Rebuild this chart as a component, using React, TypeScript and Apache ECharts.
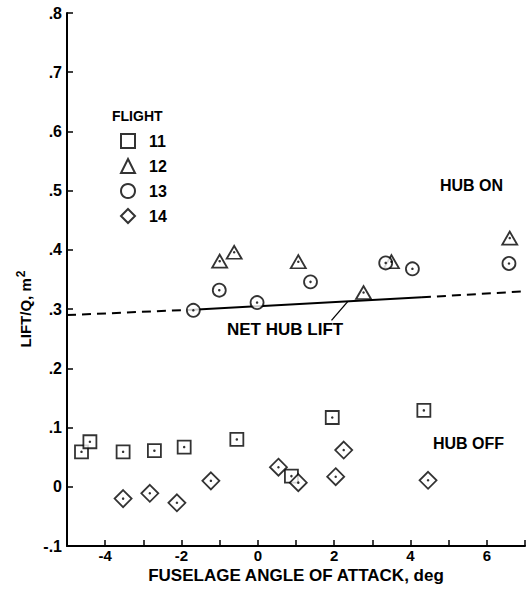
import React, { useEffect, useRef } from "react";
import * as echarts from "echarts";

// Flight data: [fuselage angle of attack (deg), lift/q (m^2)]
const flight11: number[][] = [
  [-4.62, 0.059], [-4.40, 0.076], [-3.53, 0.059], [-2.71, 0.061], [-1.93, 0.067],
  [-0.55, 0.080], [0.88, 0.018], [1.95, 0.117], [4.35, 0.129],
];
const flight12: number[][] = [
  [-1.0, 0.381], [-0.62, 0.396], [1.06, 0.380], [2.77, 0.328], [3.5, 0.380], [6.6, 0.420],
];
const flight13: number[][] = [
  [-1.69, 0.298], [-1.01, 0.332], [-0.02, 0.311], [1.38, 0.346], [3.35, 0.378],
  [4.05, 0.368], [6.58, 0.377],
];
const flight14: number[][] = [
  [-3.53, -0.020], [-2.83, -0.011], [-2.12, -0.027], [-1.23, 0.010], [0.54, 0.033],
  [1.06, 0.007], [2.04, 0.017], [2.25, 0.062], [4.46, 0.011],
];
// Net hub lift line
const netDashLeft: number[][] = [[-5, 0.290], [-1.7, 0.299]];
const netSolid: number[][] = [[-1.7, 0.299], [4.3, 0.320]];
const netDashRight: number[][] = [[4.3, 0.320], [7, 0.330]];
const leader: number[][] = [[1.93, 0.281], [2.36, 0.313]];

const flightNames = ["11", "12", "13", "14"];

const FONT = "Liberation Sans, Arial, Helvetica, sans-serif";

export default function App() {
  const ref = useRef<HTMLDivElement>(null);
  useEffect(() => {
    if (!ref.current) return;
    const chart = echarts.init(ref.current, undefined, { renderer: "svg" });
    const markerStyle = { color: "#fff", borderColor: "#000", borderWidth: 1.8 };
    const lineBase = { type: "line", symbol: "none", silent: true, z: 1 } as any;
    chart.setOption({
      animation: false,
      backgroundColor: "#fff",
      grid: { left: 67, right: 4, top: 13, bottom: 45, outerBoundsMode: "none" },
      xAxis: {
        type: "value",
        min: -5,
        max: 7,
        interval: 1,
        axisLine: { onZero: false, lineStyle: { color: "#000", width: 2 } },
        axisTick: { inside: true, length: 6, lineStyle: { color: "#000", width: 1.5 } },
        axisLabel: {
          formatter: (v: number) => (Math.round(v) % 2 === 0 ? String(Math.round(v)) : ""),
          fontFamily: FONT, fontSize: 15, fontWeight: "bold", color: "#000", margin: 2,
        },
        splitLine: { show: false },
      },
      yAxis: {
        type: "value",
        min: -0.1,
        max: 0.8,
        interval: 0.1,
        axisLine: { onZero: false, lineStyle: { color: "#000", width: 2 } },
        axisTick: { inside: true, length: 6, lineStyle: { color: "#000", width: 1.5 } },
        axisLabel: {
          formatter: (v: number) => {
            const r = Math.round(v * 10) / 10;
            if (r === 0) return "0";
            return r.toFixed(1).replace("0.", ".");
          },
          fontFamily: FONT, fontSize: 16, fontWeight: "bold", color: "#000", margin: 5,
        },
        splitLine: { show: false },
      },
      legend: {
        data: flightNames,
        orient: "vertical",
        left: 115,
        top: 128,
        itemWidth: 14,
        itemHeight: 14,
        itemGap: 9,
        textStyle: {
          fontFamily: FONT, fontSize: 16, fontWeight: "bold", color: "#000",
          lineHeight: 16, padding: [0, 0, 0, 9],
        },
        selectedMode: false,
      },
      graphic: [
        { type: "text", x: 112, y: 116, style: { text: "FLIGHT", font: `bold 14px ${FONT}`, fill: "#000", verticalAlign: "middle" } },
        { type: "text", x: 440, y: 185, style: { text: "HUB ON", font: `bold 16px ${FONT}`, fill: "#000", verticalAlign: "middle" } },
        { type: "text", x: 433, y: 443, style: { text: "HUB OFF", font: `bold 16px ${FONT}`, fill: "#000", verticalAlign: "middle" } },
        { type: "text", x: 227, y: 329, style: { text: "NET HUB LIFT", font: `bold 17px ${FONT}`, fill: "#000", verticalAlign: "middle" } },
        { type: "text", x: 296, y: 575, style: { text: "FUSELAGE ANGLE OF ATTACK, deg", font: `bold 17px ${FONT}`, fill: "#000", align: "center", verticalAlign: "middle" } },
        {
          type: "text", x: 25, y: 309, rotation: Math.PI / 2,
          style: {
            text: "{a|LIFT/Q, m}{s|2}",
            align: "center", verticalAlign: "middle",
            rich: {
              a: { fontFamily: FONT, fontSize: 15, fontWeight: "bold", fill: "#000", color: "#000" },
              s: { fontFamily: FONT, fontSize: 12, fontWeight: "bold", fill: "#000", color: "#000", verticalAlign: "top", padding: [0, 0, 8, 1] },
            },
          },
        },
      ],
      series: [
        { ...lineBase, data: netDashLeft, lineStyle: { color: "#000", width: 2, type: [9, 6] } },
        { ...lineBase, data: netSolid, lineStyle: { color: "#000", width: 2 } },
        { ...lineBase, data: netDashRight, lineStyle: { color: "#000", width: 2, type: [9, 6] } },
        { ...lineBase, data: leader, lineStyle: { color: "#000", width: 1.3 } },
        { name: "11", type: "scatter", symbol: "rect", symbolSize: 13, data: flight11, itemStyle: markerStyle, z: 3 },
        { name: "12", type: "scatter", symbol: "triangle", symbolSize: [15, 13], data: flight12, itemStyle: markerStyle, z: 3 },
        { name: "13", type: "scatter", symbol: "circle", symbolSize: 13, data: flight13, itemStyle: markerStyle, z: 3 },
        { name: "14", type: "scatter", symbol: "diamond", symbolSize: 17, data: flight14, itemStyle: markerStyle, z: 3 },
        {
          name: "dots", type: "scatter", symbol: "circle", symbolSize: 2.5, silent: true, z: 4,
          data: [...flight11, ...flight12, ...flight13, ...flight14],
          itemStyle: { color: "#000" },
        },
      ],
    });
    return () => chart.dispose();
  }, []);
  return <div ref={ref} style={{ position: "fixed", left: 0, top: 0, width: 529, height: 591 }} />;
}
